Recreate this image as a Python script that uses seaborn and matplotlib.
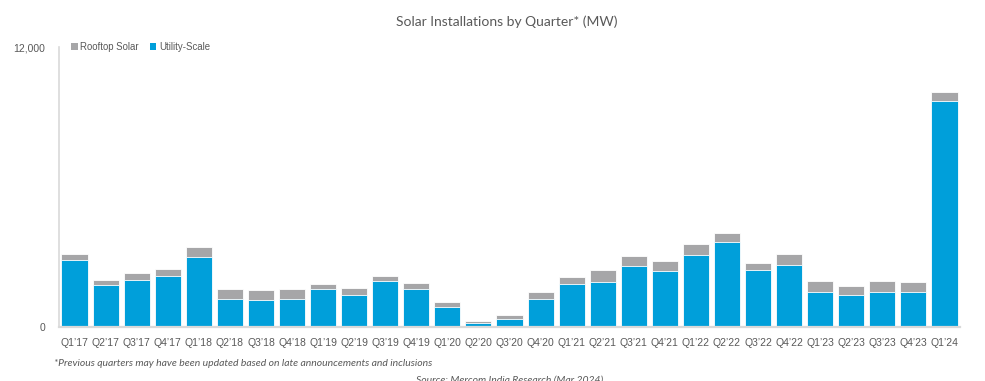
import matplotlib
matplotlib.use("Agg")
import matplotlib.pyplot as plt
import seaborn as sns
import pandas as pd
from matplotlib.patches import Patch

quarters = ["Q1’17", "Q2’17", "Q3’17", "Q4’17",
            "Q1’18", "Q2’18", "Q3’18", "Q4’18",
            "Q1’19", "Q2’19", "Q3’19", "Q4’19",
            "Q1’20", "Q2’20", "Q3’20", "Q4’20",
            "Q1’21", "Q2’21", "Q3’21", "Q4’21",
            "Q1’22", "Q2’22", "Q3’22", "Q4’22",
            "Q1’23", "Q2’23", "Q3’23", "Q4’23",
            "Q1’24"]
utility = [2860, 1800, 2030, 2200,
           3010, 1190, 1140, 1210,
           1630, 1390, 1970, 1630,
           870, 190, 360, 1210,
           1830, 1940, 2630, 2410,
           3100, 3640, 2440, 2660,
           1510, 1390, 1510, 1510,
           9690]
rooftop = [270, 215, 270, 270,
           415, 430, 445, 400,
           230, 270, 230, 270,
           215, 85, 155, 270,
           330, 500, 430, 400,
           455, 370, 300, 470,
           470, 370, 445, 415,
           385]
y_ticks = [0, 12000]
y_tick_labels = ["0", "12,000"]

BLUE = "#009FDA"
GREY = "#A6A6A8"
TXT = "#595959"

df = pd.DataFrame({"quarter": quarters, "utility": utility, "rooftop": rooftop})
df["total"] = df["utility"] + df["rooftop"]

sns.set_theme(style="white")
plt.rcParams["font.family"] = ["Lato", "DejaVu Sans"]

fig = plt.figure(figsize=(9.85, 3.81), dpi=100)
ax = fig.add_axes([59 / 985, 1 - 327 / 381, (960 - 59) / 985, (327 - 47) / 381])

sns.barplot(data=df, x="quarter", y="total", color=GREY, saturation=1,
            width=0.84, edgecolor="white", linewidth=0.6, ax=ax)
sns.barplot(data=df, x="quarter", y="utility", color=BLUE, saturation=1,
            width=0.84, edgecolor="white", linewidth=0.6, ax=ax)

ax.set_ylim(0, 12000)
ax.set_xlim(-0.5, len(quarters) - 0.5)
ax.set_yticks(y_ticks)
ax.set_yticklabels(y_tick_labels)
ax.set_xlabel("")
ax.set_ylabel("")
ax.tick_params(axis="both", length=0, colors=TXT, labelsize=7.5)
ax.tick_params(axis="y", pad=10)
ax.tick_params(axis="x", pad=8)
for lab in ax.get_xticklabels() + ax.get_yticklabels():
    lab.set_family(["Liberation Sans", "DejaVu Sans"])

for s in ["top", "right"]:
    ax.spines[s].set_visible(False)
ax.spines["left"].set_color("#D9D9D9")
ax.spines["left"].set_linewidth(1.2)
ax.spines["bottom"].set_color("#D9D9D9")
ax.spines["bottom"].set_linewidth(1.6)

fig.text(507 / 985, 1 - 22 / 381, "Solar Installations by Quarter* (MW)",
         ha="center", va="center", fontsize=10, color=TXT)

handles = [Patch(facecolor=GREY, edgecolor="none", label="Rooftop Solar"),
           Patch(facecolor=BLUE, edgecolor="none", label="Utility-Scale")]
leg = fig.legend(handles=handles, loc="center left",
                 bbox_to_anchor=(67 / 985, 1 - 47 / 381), ncol=2, frameon=False,
                 handlelength=0.7, handleheight=0.7, handletextpad=0.3,
                 columnspacing=1.1, borderaxespad=0,
                 prop={"family": ["Liberation Sans", "DejaVu Sans"], "size": 6.9})
for t in leg.get_texts():
    t.set_color(TXT)

fig.text(54 / 985, 1 - 363 / 381,
         "*Previous quarters may have been updated based on late announcements and inclusions",
         ha="left", va="center", fontsize=7.5, style="italic", color=TXT)
fig.text(510 / 985, 1 - 376 / 381, "Source: Mercom India Research (Mar 2024)",
         ha="center", va="top", fontsize=7.5, style="italic", color=TXT)

fig.savefig("out.png", dpi=100)
